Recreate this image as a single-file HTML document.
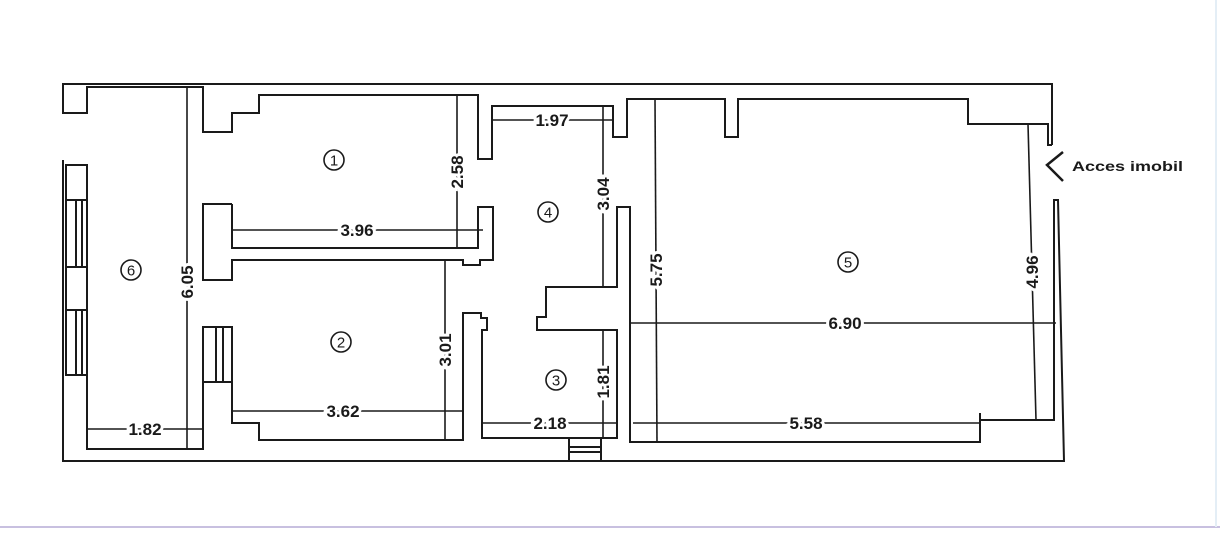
<!DOCTYPE html>
<html><head><meta charset="utf-8"><style>
html,body{margin:0;padding:0;background:#fff;}
svg{display:block;}
text{font-family:"Liberation Sans",sans-serif;fill:#1a1a1a;}
.d{font-size:17px;font-weight:bold;}
.lb{paint-order:stroke;stroke:#fff;stroke-width:6px;}
</style></head><body>
<svg width="1220" height="535" viewBox="0 0 1220 535" xmlns="http://www.w3.org/2000/svg">
<rect width="1220" height="535" fill="#fff"/>
<g fill="none" stroke="#1a1a1a" stroke-width="2">
<polyline points="63,160 63,461 1064,461 1058,200 1054,200 1054,420 980,420"/>
<polyline points="1052,145 1052,84 63,84 63,113 87,113 87,87 203,87 203,132 232,132 232,113 259,113 259,95 478,95 478,159 492,159 492,106 613,106 613,137 627,137 627,99 725,99 725,137 738,137 738,99 968,99 968,124 1048,124 1048,145 1052,145"/>
<rect x="66" y="165" width="21" height="210"/>
<line x1="66" y1="200" x2="87" y2="200"/><line x1="66" y1="267" x2="87" y2="267"/><line x1="66" y1="310" x2="87" y2="310"/>
<line x1="76" y1="200" x2="76" y2="267"/><line x1="82" y1="200" x2="82" y2="267"/>
<line x1="76" y1="310" x2="76" y2="375"/><line x1="82" y1="310" x2="82" y2="375"/>
<polyline points="87,375 87,449 203,449 203,382"/>
<polyline points="232,204 203,204 203,280 232,280 232,260 463,260 463,265 480,265 480,260 493,260 493,207 478,207 478,248 232,248 232,204"/>
<rect x="203" y="327" width="29" height="55"/>
<line x1="216" y1="327" x2="216" y2="382"/><line x1="223" y1="327" x2="223" y2="382"/>
<polyline points="232,382 232,423 259,423 259,440 463,440 463,313 481,313 481,318 487,318 487,330 482,330 482,438 617,438 617,330 537,330 537,317 546,317 546,287 617,287 617,207 630,207 630,442 980,442 980,413"/>
<rect x="569" y="438" width="32" height="23"/>
<line x1="569" y1="447" x2="601" y2="447"/><line x1="569" y1="452" x2="601" y2="452"/>
</g>
<g stroke="#1a1a1a" stroke-width="1.6">
<line x1="187" y1="87" x2="187" y2="449"/>
<line x1="87" y1="429" x2="203" y2="429"/>
<line x1="232" y1="230" x2="483" y2="230"/>
<line x1="457" y1="95" x2="457" y2="248"/>
<line x1="445" y1="260" x2="445" y2="440"/>
<line x1="232" y1="411" x2="463" y2="411"/>
<line x1="492" y1="120" x2="613" y2="120"/>
<line x1="603" y1="106" x2="603" y2="287"/>
<line x1="603" y1="331" x2="603" y2="438"/>
<line x1="482" y1="423" x2="617" y2="423"/>
<line x1="655" y1="99" x2="657" y2="442"/>
<line x1="630" y1="323" x2="1056" y2="323"/>
<line x1="633" y1="423" x2="980" y2="423"/>
<line x1="1028" y1="124" x2="1036" y2="420"/>
<polyline points="1063,152 1047,165 1063,181" fill="none" stroke-width="2.5"/>
</g>
<g class="d">
<text class="lb" x="145" y="435" text-anchor="middle">1.82</text>
<text class="lb" x="357" y="236" text-anchor="middle">3.96</text>
<text class="lb" x="343" y="417" text-anchor="middle">3.62</text>
<text class="lb" x="552" y="126" text-anchor="middle">1.97</text>
<text class="lb" x="550" y="429" text-anchor="middle">2.18</text>
<text class="lb" x="845" y="329" text-anchor="middle">6.90</text>
<text class="lb" x="806" y="429" text-anchor="middle">5.58</text>
<text class="lb" transform="translate(193,282) rotate(-90)" text-anchor="middle">6.05</text>
<text class="lb" transform="translate(463,172) rotate(-90)" text-anchor="middle">2.58</text>
<text class="lb" transform="translate(451,350) rotate(-90)" text-anchor="middle">3.01</text>
<text class="lb" transform="translate(609,194) rotate(-90)" text-anchor="middle">3.04</text>
<text class="lb" transform="translate(609,382) rotate(-90)" text-anchor="middle">1.81</text>
<text class="lb" transform="translate(662,270) rotate(-90)" text-anchor="middle">5.75</text>
<text class="lb" transform="translate(1038,272) rotate(-90)" text-anchor="middle">4.96</text>
</g>
<text x="1072" y="171" font-size="14" font-weight="bold" textLength="111" lengthAdjust="spacingAndGlyphs">Acces imobil</text>
<g fill="none" stroke="#1a1a1a" stroke-width="1.6">
<circle cx="334" cy="160" r="10"/><circle cx="341" cy="342" r="10"/><circle cx="556" cy="380" r="10"/>
<circle cx="548" cy="212" r="10"/><circle cx="848" cy="262" r="10"/><circle cx="131" cy="270" r="10"/>
</g>
<g font-size="15" text-anchor="middle">
<text x="334" y="165.5">1</text><text x="341" y="347.5">2</text><text x="556" y="385.5">3</text>
<text x="548" y="217.5">4</text><text x="848" y="267.5">5</text><text x="131" y="275.5">6</text>
</g>
<line x1="0" y1="527" x2="1220" y2="527" stroke="#c8c0e0" stroke-width="2"/>
<line x1="1216" y1="0" x2="1216" y2="527" stroke="#e4eef6" stroke-width="2"/>
</svg>
</body></html>
